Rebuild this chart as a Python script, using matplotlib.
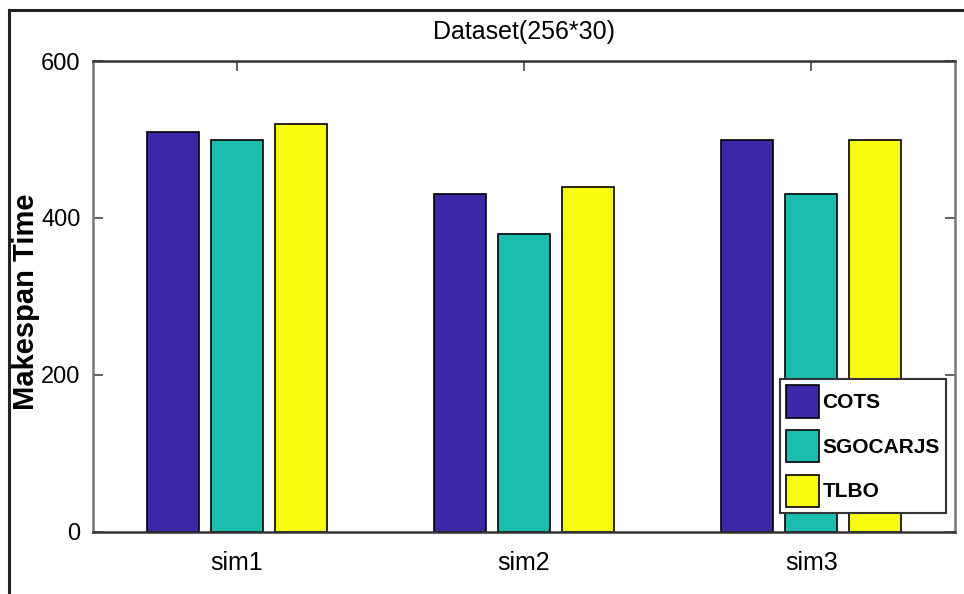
import numpy as np
import matplotlib
matplotlib.use("Agg")
import matplotlib.pyplot as plt
from matplotlib.lines import Line2D

# data
groups = ["sim1", "sim2", "sim3"]
cots = [510, 430, 500]
sgocarjs = [500, 380, 430]
tlbo = [520, 440, 500]
series_names = ["COTS", "SGOCARJS", "TLBO"]
yticks = [0, 200, 400, 600]

colors = ["#3D26A8", "#1CBDB1", "#F9FB0E"]
font = ["Liberation Sans", "DejaVu Sans"]

fig = plt.figure(figsize=(9.64, 5.94), dpi=100)
ax = fig.add_axes([0.0965, 0.1044, 0.8942, 0.7929])

x = np.arange(1, len(groups) + 1)
width = 0.181
offset = 0.223
for i, vals in enumerate([cots, sgocarjs, tlbo]):
    ax.bar(x + (i - 1) * offset, vals, width, color=colors[i],
           edgecolor="black", linewidth=1.2, label=series_names[i], zorder=2)

ax.set_xlim(0.5, 3.5)
ax.set_ylim(0, 600)
ax.set_xticks(x)
ax.set_xticklabels(groups, family=font, fontsize=18)
ax.set_yticks(yticks)
ax.set_yticklabels([str(t) for t in yticks], family=font, fontsize=17)
ax.tick_params(direction="in", length=7, width=1.2, top=True, right=True,
               colors="#444444", labelcolor="black")
ax.tick_params(axis="x", pad=14)
ax.tick_params(axis="y", pad=9)

for side in ["left", "right"]:
    ax.spines[side].set_color("#777777")
    ax.spines[side].set_linewidth(1.8)
for side in ["top", "bottom"]:
    ax.spines[side].set_color("#333333")
    ax.spines[side].set_linewidth(1.8)

ax.set_title("Dataset(256*30)", family=font, fontsize=18, pad=16)
fig.text(26 / 964, 0.492, "Makespan Time", family=font, fontweight="bold",
         fontsize=21, rotation=90, ha="center", va="center")

leg = ax.legend(loc="lower right", bbox_to_anchor=(0.9896, 0.04),
                prop={"family": font, "weight": "bold", "size": 15},
                fancybox=False, framealpha=1, edgecolor="#333333",
                handlelength=1.6, handleheight=2.0, handletextpad=0.15,
                labelspacing=0.6, borderpad=0.3, borderaxespad=0)
leg.get_frame().set_linewidth(1.5)

# outer frame of the picture
fig.add_artist(Line2D([9 / 964, 1], [1 - 9.5 / 594, 1 - 9.5 / 594],
                      transform=fig.transFigure, color="#222222", lw=2.2))
fig.add_artist(Line2D([9 / 964, 9 / 964], [0, 1 - 9.5 / 594],
                      transform=fig.transFigure, color="#222222", lw=2.2))

fig.savefig("out.png", dpi=100)
